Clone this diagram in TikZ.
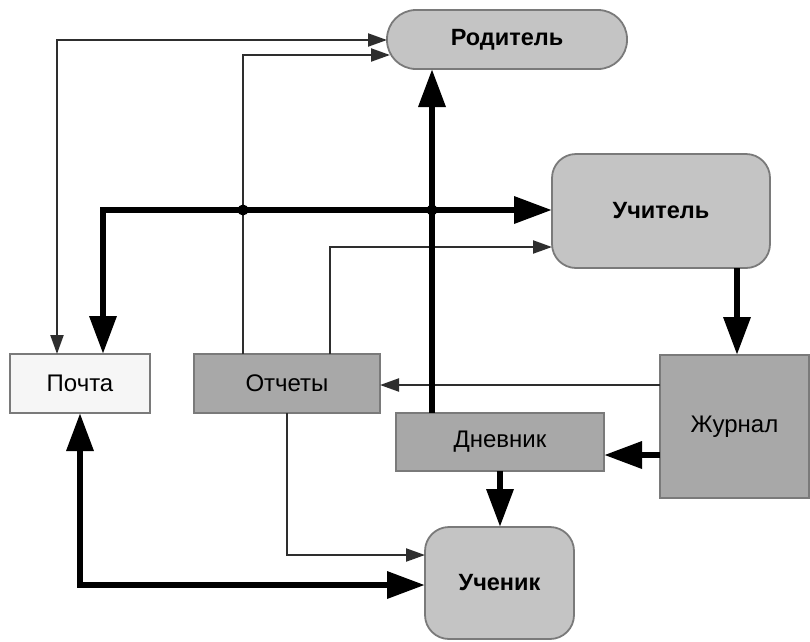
\documentclass[tikz,border=0pt]{standalone}
\usepackage{fontspec}
\setmainfont{Liberation Sans}
\usetikzlibrary{arrows.meta,calc}
\definecolor{lightfill}{HTML}{C4C4C4}
\definecolor{darkfill}{HTML}{A8A8A8}
\definecolor{mailfill}{HTML}{F6F6F6}
\definecolor{edgegray}{HTML}{7A7A7A}
\definecolor{thingray}{HTML}{2E2E2E}
\tikzset{
  box/.style={draw=edgegray, line width=1.8pt, inner sep=0pt, outer sep=0pt, font=\fontsize{24}{28}\selectfont},
  roundbox/.style={box, fill=lightfill, font=\fontsize{23.5}{28}\selectfont\bfseries},
  sqbox/.style={box, fill=darkfill},
  mailbox/.style={box, fill=mailfill},
  thinline/.style={draw=thingray, line width=2.2pt, -{Triangle[length=19pt,width=13pt]}, line join=miter},
  thickline/.style={draw=black, line width=6.5pt, -{Triangle[length=38pt,width=26pt]}, line join=miter},
  junction/.style={circle, fill=black, inner sep=0pt, minimum size=11pt}
}
\begin{document}
\begin{tikzpicture}[x=1pt,y=-1pt]
\useasboundingbox (0,0) rectangle (810,641);
% nodes
\node[roundbox, minimum width=240pt, minimum height=59pt, rounded corners=29pt] (rod) at (507,39.5) {Родитель};
\node[roundbox, minimum width=218pt, minimum height=114pt, rounded corners=24pt] (uch) at (661,211) {Учитель};
\node[sqbox, minimum width=149pt, minimum height=143pt] (zhur) at (734.5,426.5) {Журнал};
\node[sqbox, minimum width=208pt, minimum height=58pt] (dnev) at (500,442) {Дневник};
\node[roundbox, minimum width=149pt, minimum height=112pt, rounded corners=24pt] (ucn) at (499.5,583) {Ученик};
\node[mailbox, minimum width=140pt, minimum height=59pt] (pochta) at (80,383.5) {Почта};
\node[sqbox, minimum width=186pt, minimum height=59pt] (otch) at (287,383.5) {Отчеты};
% bend coordinates
\coordinate (b1) at (57,40);
\coordinate (b2) at (243,55);
\coordinate (b3) at (330,247);
\coordinate (jl) at (103,210);
\coordinate (j1) at (243,210);
\coordinate (j2) at (432,210);
\coordinate (v1) at (737,0);
\coordinate (h1) at (0,385);
\coordinate (h2) at (0,455);
\coordinate (v2) at (500,0);
\coordinate (b4) at (287,555);
\coordinate (b5) at (80,585);
% thin connectors
\draw[thinline, {Triangle[length=19pt,width=13pt]}-{Triangle[length=19pt,width=13pt]}] (b1 |- pochta.north) -- (b1) -- (b1 -| rod.west);
\draw[thinline] (b2 |- otch.north) -- (b2) -- ($(rod.west)+(3,15.5)$);
\draw[thinline] (b3 |- otch.north) -- (b3) -- (b3 -| uch.west);
\draw[thinline] (h1 -| zhur.west) -- (h1 -| otch.east);
\draw[thinline] (b4 |- otch.south) -- (b4) -- (b4 -| ucn.west);
% thick connectors
\draw[thickline] (j2 |- dnev.north) -- (j2 |- rod.south);
\draw[thickline] (j2) -- (jl) -- (jl |- pochta.north);
\draw[thickline] (j2) -- (j2 -| uch.west);
\draw[thickline] (v1 |- uch.south) -- (v1 |- zhur.north);
\draw[thickline] (h2 -| zhur.west) -- (h2 -| dnev.east);
\draw[thickline] (v2 |- dnev.south) -- (v2 |- ucn.north);
\draw[thickline, {Triangle[length=38pt,width=26pt]}-{Triangle[length=38pt,width=26pt]}] (b5 |- pochta.south) -- (b5) -- (b5 -| ucn.west);
% junction dots
\node[junction] (d1) at (j1) {};
\node[junction] (d2) at (j2) {};
\end{tikzpicture}
\end{document}
